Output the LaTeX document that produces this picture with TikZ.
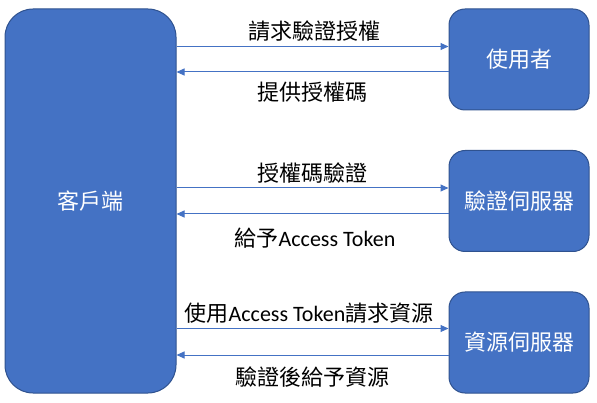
\documentclass[tikz,border=0pt]{standalone}
\usepackage{fontspec}
\setmainfont{Carlito}
\newfontfamily\cjk{Noto Sans CJK TC}
\usetikzlibrary{arrows.meta}
\definecolor{boxblue}{HTML}{4472C4}
\definecolor{boxedge}{HTML}{2F528F}
\tikzset{
  bigbox/.style={draw=boxedge, line width=1pt, fill=boxblue, rounded corners=28pt,
    minimum width=171pt, minimum height=384pt, inner sep=0pt, text=white,
    font=\fontsize{22}{26}\selectfont\cjk},
  sidebox/.style={draw=boxedge, line width=1pt, fill=boxblue, rounded corners=16pt,
    minimum width=140pt, minimum height=101pt, inner sep=0pt, text=white,
    font=\fontsize{22}{26}\selectfont\cjk},
  arr/.style={draw=boxblue, line width=1pt, -{Triangle[length=8pt,width=7pt]}},
  lbl/.style={inner sep=0pt, text=black, font=\fontsize{22}{26}\selectfont\cjk}
}
\begin{document}
\begin{tikzpicture}[x=1pt,y=-1pt]
\useasboundingbox (0,0) rectangle (597,403);
\node[bigbox] (client) at (90.5,201) {客戶端};
\node[sidebox] (user) at (519,59.5) {使用者};
\node[sidebox] (auth) at (519,201) {驗證伺服器};
\node[sidebox] (res) at (519,342.5) {資源伺服器};
% row 1
\draw[arr] ([yshift=13pt]user.west -| client.east) -- ([yshift=13pt]user.west);
\draw[arr] ([yshift=-12.5pt]user.west) -- ([yshift=-12.5pt]user.west -| client.east);
\node[lbl] (l1) at (314,31) {請求驗證授權};
\node[lbl] (l2) at (312,92) {提供授權碼};
% row 2
\draw[arr] ([yshift=13pt]auth.west -| client.east) -- ([yshift=13pt]auth.west);
\draw[arr] ([yshift=-13pt]auth.west) -- ([yshift=-13pt]auth.west -| client.east);
\node[lbl] (l3) at (312,173) {授權碼驗證};
\node[lbl] (l4) at (315,238) {給予{\fontspec{Carlito}Access Token}};
% row 3
\draw[arr] ([yshift=14pt]res.west -| client.east) -- ([yshift=14pt]res.west);
\draw[arr] ([yshift=-12.5pt]res.west) -- ([yshift=-12.5pt]res.west -| client.east);
\node[lbl] (l5) at (309,313) {使用{\fontspec{Carlito}Access Token}請求資源};
\node[lbl] (l6) at (312,377) {驗證後給予資源};
\end{tikzpicture}
\end{document}
